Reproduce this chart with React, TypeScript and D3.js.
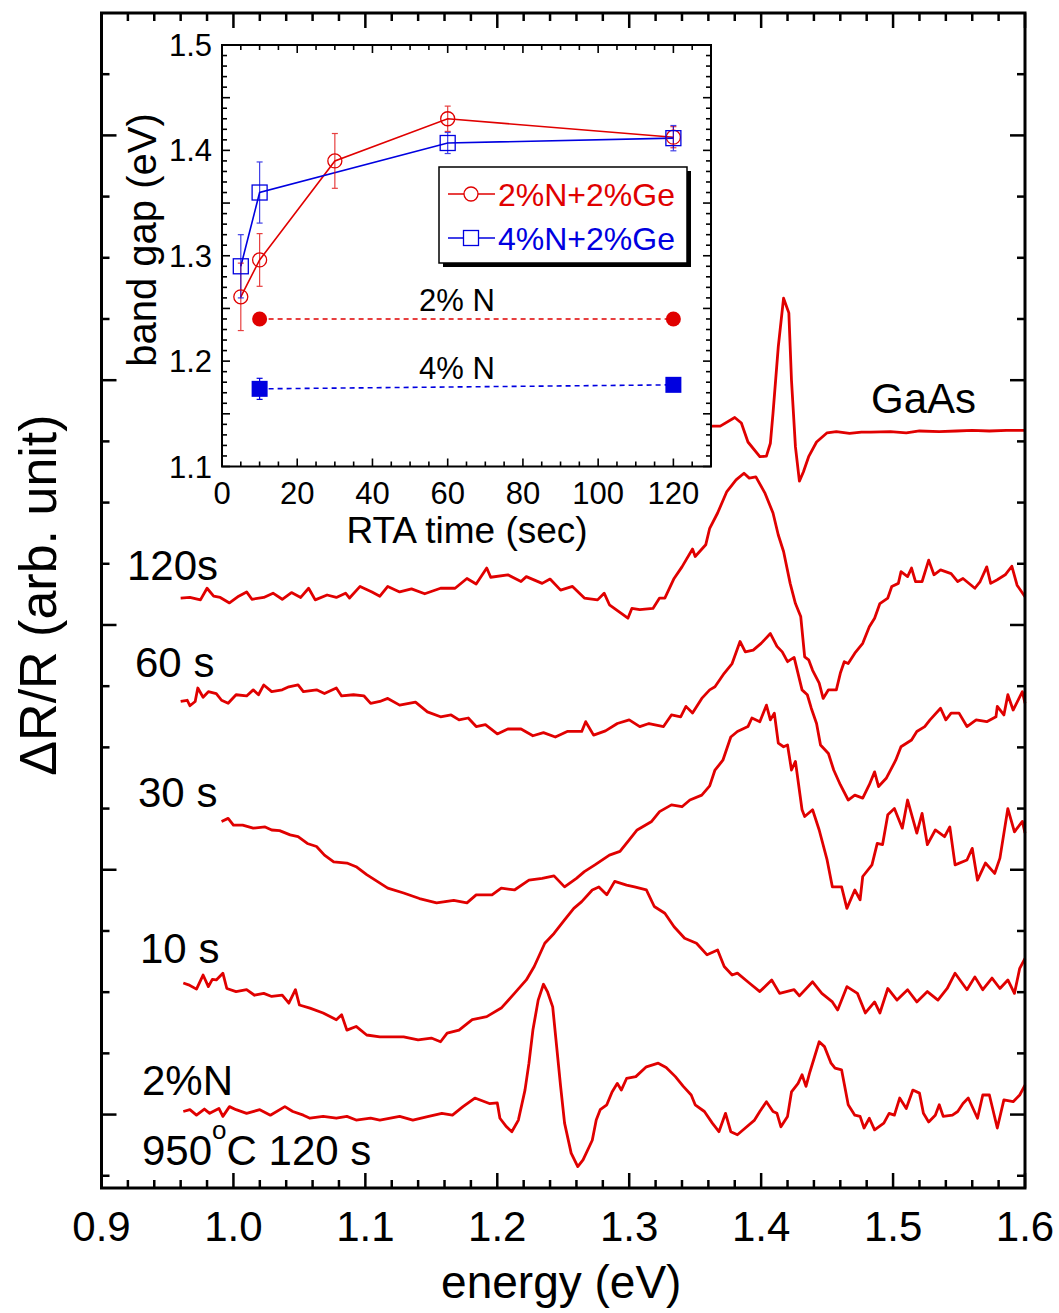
import React from 'react';
import * as d3 from 'd3';

// ---------- main panel data: [energy (eV), ΔR/R + offset (arb. unit)] ----------
const gaasSpec: [number, number][] = [
  [1.300, 112.3], [1.330, 112.6], [1.350, 112.4],
  [1.364, 112.5], [1.369, 112.5], [1.380, 113.9], [1.385, 113.0], [1.390, 109.9], [1.399, 107.5],
  [1.404, 107.6], [1.407, 109.7], [1.409, 114.6], [1.413, 125.5], [1.417, 133.4], [1.421, 131.0],
  [1.423, 120.0], [1.426, 109.1], [1.429, 103.5], [1.432, 105.0], [1.436, 107.5], [1.442, 109.9],
  [1.450, 111.4], [1.457, 111.6], [1.467, 111.3], [1.476, 111.5], [1.483, 111.5], [1.498, 111.6],
  [1.510, 111.4], [1.520, 111.7], [1.535, 111.6], [1.548, 111.7], [1.560, 111.8], [1.573, 111.7],
  [1.586, 111.8], [1.600, 111.8],
];

const s120: [number, number][] = [
  [0.960, 84.4], [0.967, 84.5], [0.975, 84.1], [0.980, 86.0], [0.985, 84.7], [0.990, 84.5],
  [0.997, 83.6], [1.004, 84.7], [1.010, 85.4], [1.014, 84.2], [1.023, 84.5], [1.030, 85.2],
  [1.037, 84.2], [1.044, 85.3], [1.051, 84.5], [1.057, 86.0], [1.062, 84.1], [1.071, 84.9],
  [1.078, 84.5], [1.085, 85.2], [1.088, 84.4], [1.096, 86.3], [1.105, 85.4], [1.111, 84.7],
  [1.117, 86.3], [1.126, 85.4], [1.135, 85.9], [1.145, 85.1], [1.157, 86.0], [1.168, 86.0],
  [1.177, 87.6], [1.184, 86.7], [1.192, 89.3], [1.195, 87.8], [1.208, 88.2], [1.218, 87.1],
  [1.222, 87.9], [1.234, 86.8], [1.240, 87.5], [1.248, 85.7], [1.257, 86.3], [1.266, 84.4],
  [1.276, 84.1], [1.281, 85.2], [1.285, 83.3], [1.294, 81.9], [1.299, 81.1], [1.302, 82.7],
  [1.308, 82.5], [1.318, 82.7], [1.323, 84.4], [1.327, 84.4], [1.334, 87.6], [1.340, 89.5],
  [1.343, 90.6], [1.348, 92.4], [1.350, 91.2], [1.358, 93.1], [1.361, 95.8], [1.367, 98.3],
  [1.374, 101.8], [1.381, 103.7], [1.387, 104.8], [1.391, 104.0], [1.396, 104.2], [1.403, 101.5],
  [1.409, 98.3], [1.413, 94.7], [1.417, 92.0], [1.422, 86.8], [1.426, 83.5], [1.430, 81.4],
  [1.433, 74.8], [1.436, 74.3], [1.439, 72.6], [1.444, 70.5], [1.447, 68.0], [1.451, 69.4],
  [1.457, 69.4], [1.460, 72.1], [1.463, 74.0], [1.466, 73.7], [1.471, 75.4], [1.477, 77.0],
  [1.482, 79.7], [1.486, 81.1], [1.490, 83.5], [1.496, 84.4], [1.499, 86.3], [1.504, 86.8],
  [1.506, 88.7], [1.511, 87.9], [1.514, 89.3], [1.517, 87.1], [1.522, 87.1], [1.527, 90.6],
  [1.531, 88.2], [1.536, 89.0], [1.544, 88.4], [1.549, 87.1], [1.553, 87.6], [1.562, 86.0],
  [1.566, 87.1], [1.571, 89.5], [1.574, 86.8], [1.579, 87.4], [1.585, 88.2], [1.590, 89.6],
  [1.594, 86.5], [1.600, 84.6],
];

const s60: [number, number][] = [
  [0.960, 67.5], [0.965, 67.7], [0.967, 66.8], [0.971, 67.5], [0.973, 69.7], [0.977, 68.2],
  [0.981, 69.1], [0.987, 68.8], [0.991, 67.7], [0.996, 67.2], [1.002, 68.6], [1.010, 68.4],
  [1.015, 69.4], [1.019, 68.6], [1.023, 70.2], [1.029, 69.1], [1.037, 69.4], [1.042, 69.9],
  [1.049, 70.2], [1.053, 69.1], [1.063, 69.4], [1.069, 68.8], [1.078, 69.7], [1.082, 68.4],
  [1.091, 68.6], [1.099, 68.4], [1.104, 67.2], [1.111, 67.5], [1.117, 68.0], [1.126, 66.9],
  [1.138, 67.4], [1.147, 65.8], [1.157, 65.0], [1.165, 65.3], [1.171, 64.5], [1.178, 64.8],
  [1.184, 63.4], [1.191, 63.7], [1.200, 62.2], [1.208, 63.0], [1.218, 63.0], [1.227, 61.9],
  [1.235, 62.4], [1.244, 61.7], [1.253, 62.6], [1.264, 62.6], [1.267, 64.2], [1.273, 62.0],
  [1.282, 62.7], [1.291, 63.9], [1.300, 64.5], [1.308, 63.4], [1.315, 63.9], [1.326, 63.4],
  [1.332, 65.3], [1.339, 65.0], [1.343, 66.7], [1.348, 65.6], [1.355, 68.0], [1.361, 69.4],
  [1.365, 69.9], [1.372, 72.1], [1.378, 73.7], [1.384, 77.3], [1.388, 75.6], [1.394, 75.9],
  [1.400, 77.0], [1.407, 78.6], [1.412, 76.5], [1.416, 75.6], [1.420, 74.0], [1.425, 74.7],
  [1.431, 69.4], [1.435, 68.6], [1.438, 66.4], [1.442, 63.9], [1.445, 60.4], [1.451, 59.0],
  [1.455, 56.3], [1.460, 53.9], [1.466, 51.4], [1.471, 52.2], [1.477, 51.7], [1.482, 53.9],
  [1.486, 56.0], [1.489, 53.6], [1.495, 55.0], [1.502, 57.9], [1.506, 60.1], [1.514, 61.2],
  [1.518, 62.6], [1.524, 63.4], [1.528, 64.5], [1.536, 66.4], [1.540, 64.5], [1.544, 65.6],
  [1.550, 65.6], [1.556, 63.4], [1.563, 64.5], [1.571, 64.2], [1.578, 65.0], [1.579, 66.7],
  [1.584, 65.3], [1.587, 68.6], [1.591, 66.1], [1.598, 69.1], [1.600, 67.2],
];

const s30: [number, number][] = [
  [0.991, 47.9], [0.996, 48.4], [1.000, 47.3], [1.007, 47.3], [1.015, 46.8], [1.024, 47.0],
  [1.029, 46.5], [1.035, 46.4], [1.043, 45.7], [1.049, 45.4], [1.056, 44.3], [1.063, 43.8],
  [1.069, 42.4], [1.076, 41.3], [1.086, 41.1], [1.093, 40.5], [1.101, 39.2], [1.109, 38.1],
  [1.117, 37.0], [1.129, 36.2], [1.141, 35.3], [1.154, 34.6], [1.167, 35.0], [1.177, 34.6],
  [1.184, 35.9], [1.196, 35.9], [1.203, 37.0], [1.213, 36.7], [1.224, 38.3], [1.234, 38.6],
  [1.243, 39.0], [1.251, 37.2], [1.260, 38.6], [1.266, 39.7], [1.274, 40.8], [1.285, 42.4],
  [1.293, 43.0], [1.300, 44.9], [1.306, 46.5], [1.317, 47.9], [1.323, 49.5], [1.332, 50.6],
  [1.340, 50.3], [1.346, 51.4], [1.355, 52.2], [1.361, 53.7], [1.365, 56.3], [1.371, 57.9],
  [1.377, 61.7], [1.382, 62.6], [1.390, 63.4], [1.393, 64.8], [1.399, 64.2], [1.404, 66.9],
  [1.407, 64.5], [1.410, 65.6], [1.413, 60.7], [1.417, 60.1], [1.420, 60.4], [1.423, 56.3],
  [1.426, 57.7], [1.431, 49.8], [1.433, 48.7], [1.439, 49.8], [1.444, 46.5], [1.450, 41.6],
  [1.454, 37.2], [1.461, 37.2], [1.465, 33.7], [1.471, 36.7], [1.475, 35.1], [1.477, 38.9],
  [1.484, 40.8], [1.488, 44.3], [1.492, 44.1], [1.496, 49.0], [1.501, 50.0], [1.507, 46.8],
  [1.511, 51.4], [1.518, 46.0], [1.522, 49.2], [1.526, 44.1], [1.532, 46.5], [1.539, 45.4],
  [1.543, 47.0], [1.547, 40.8], [1.556, 41.6], [1.560, 43.5], [1.564, 38.3], [1.570, 41.1],
  [1.577, 39.4], [1.581, 41.9], [1.587, 50.0], [1.592, 46.2], [1.598, 47.9], [1.600, 46.0],
];

const s10: [number, number][] = [
  [0.962, 21.5], [0.966, 21.2], [0.972, 20.5], [0.977, 22.8], [0.981, 20.9], [0.984, 22.1],
  [0.987, 22.0], [0.992, 23.1], [0.995, 20.6], [1.002, 20.1], [1.010, 20.4], [1.016, 19.5],
  [1.023, 19.8], [1.029, 19.3], [1.037, 19.5], [1.042, 18.2], [1.047, 20.4], [1.050, 17.9],
  [1.058, 17.4], [1.068, 16.6], [1.078, 15.5], [1.082, 16.3], [1.086, 13.8], [1.093, 14.4],
  [1.101, 13.0], [1.111, 12.7], [1.117, 12.7], [1.129, 12.7], [1.140, 12.2], [1.150, 12.5],
  [1.157, 11.9], [1.162, 13.3], [1.171, 13.8], [1.181, 15.5], [1.192, 16.0], [1.203, 17.4],
  [1.213, 19.8], [1.222, 22.0], [1.228, 24.2], [1.236, 28.0], [1.243, 29.6], [1.251, 31.8],
  [1.258, 33.7], [1.264, 34.8], [1.272, 36.7], [1.277, 37.2], [1.283, 35.9], [1.289, 38.1],
  [1.298, 37.5], [1.304, 37.2], [1.313, 36.7], [1.319, 34.0], [1.327, 32.9], [1.334, 30.7],
  [1.342, 28.8], [1.351, 28.0], [1.359, 26.1], [1.367, 26.9], [1.372, 24.2], [1.378, 22.8],
  [1.382, 23.1], [1.391, 21.5], [1.399, 20.1], [1.408, 22.0], [1.414, 19.8], [1.425, 20.4],
  [1.429, 19.4], [1.439, 21.7], [1.446, 19.8], [1.454, 18.4], [1.458, 17.1], [1.465, 20.9],
  [1.473, 19.8], [1.479, 16.6], [1.486, 18.4], [1.490, 16.6], [1.496, 20.6], [1.503, 18.7],
  [1.511, 20.4], [1.518, 18.4], [1.526, 20.1], [1.534, 18.7], [1.541, 20.6], [1.547, 23.1],
  [1.556, 20.4], [1.562, 22.5], [1.568, 20.4], [1.575, 22.3], [1.581, 20.6], [1.587, 22.0],
  [1.592, 19.8], [1.596, 23.9], [1.600, 25.5],
];

const n2Spec: [number, number][] = [
  [0.962, 0.5], [0.967, 0.8], [0.972, -0.1], [0.978, 0.9], [0.982, 0.2], [0.989, 1.0],
  [0.992, -0.3], [0.997, 1.3], [1.002, 0.8], [1.010, 0.2], [1.020, 0.8], [1.028, -0.1],
  [1.039, 1.3], [1.045, 0.5], [1.053, -0.1], [1.058, -0.6], [1.068, -0.3], [1.078, -0.6],
  [1.086, -0.3], [1.093, -0.9], [1.104, -0.6], [1.111, -0.9], [1.126, -0.3], [1.136, -0.9],
  [1.148, -0.3], [1.158, 0.2], [1.166, -0.1], [1.174, 1.3], [1.183, 2.7], [1.194, 1.8],
  [1.200, 1.9], [1.202, -0.6], [1.207, -2.0], [1.211, -2.8], [1.216, -0.9], [1.221, 4.0],
  [1.224, 8.4], [1.227, 13.8], [1.231, 18.7], [1.235, 21.3], [1.238, 20.1], [1.242, 17.6],
  [1.245, 11.1], [1.248, 4.6], [1.251, -1.4], [1.256, -6.3], [1.261, -8.5], [1.265, -7.4],
  [1.272, -4.2], [1.275, -0.9], [1.278, 0.8], [1.283, 1.6], [1.287, 3.7], [1.291, 5.1],
  [1.294, 4.0], [1.298, 5.9], [1.305, 6.2], [1.313, 7.8], [1.322, 8.4], [1.328, 7.7],
  [1.335, 6.2], [1.341, 4.6], [1.347, 3.2], [1.350, 1.6], [1.357, 0.5], [1.363, -1.4],
  [1.368, -2.8], [1.373, 0.2], [1.377, -2.8], [1.382, -3.3], [1.388, -2.2], [1.395, -0.9],
  [1.399, 0.5], [1.404, 2.1], [1.409, 0.5], [1.412, 0.2], [1.415, -2.0], [1.420, -0.3],
  [1.423, 3.7], [1.428, 5.1], [1.431, 6.5], [1.434, 4.6], [1.437, 7.0], [1.444, 11.9],
  [1.448, 11.1], [1.453, 8.4], [1.456, 7.6], [1.461, 7.3], [1.466, 1.6], [1.471, -0.1],
  [1.475, -0.3], [1.478, -2.2], [1.482, -0.6], [1.486, -2.5], [1.493, -1.4], [1.497, 0.2],
  [1.501, -0.1], [1.505, 2.7], [1.510, 1.0], [1.515, 4.0], [1.520, 3.5], [1.523, 0.2],
  [1.527, -1.2], [1.532, -0.1], [1.535, 1.6], [1.538, -0.3], [1.545, -0.1], [1.549, 0.5],
  [1.553, 1.8], [1.557, 2.7], [1.564, -0.6], [1.568, 3.2], [1.573, 3.2], [1.579, -2.2],
  [1.584, 2.4], [1.591, 2.1], [1.596, 3.2], [1.600, 4.8],
];

const spectra = [gaasSpec, s120, s60, s30, s10, n2Spec];
const spectrumLabels = ['GaAs', '120s', '60 s', '30 s', '10 s', '2%N'];
const xTickLabels = ['0.9', '1.0', '1.1', '1.2', '1.3', '1.4', '1.5', '1.6'];

// ---------- inset data: RTA time (sec), band gap (eV), error (eV) ----------
const rtaTimeA = [5, 10, 30, 60, 120];
const gapA = [1.261, 1.296, 1.390, 1.430, 1.4125];
const errA = [0.032, 0.025, 0.026, 0.012, 0.010];

const rtaTimeB = [5, 10, 60, 120];
const gapB = [1.290, 1.360, 1.407, 1.4116];
const errB = [0.030, 0.029, 0.010, 0.012];

const refTimes = [10, 120];
const ref2N = [1.240, 1.240];
const ref4N = [1.1737, 1.1775];
const ref4NErr = [0.010, 0];

const legendLabels = ['2%N+2%Ge', '4%N+2%Ge'];
const insetXTicks = [0, 20, 40, 60, 80, 100, 120];
const insetYTicks = [1.1, 1.2, 1.3, 1.4, 1.5];

const RED = '#e00000';
const BLUE = '#0000e0';
const FONT = "'Liberation Sans', Arial, Helvetica, sans-serif";

export default function App() {
  // main scales
  const x = d3.scaleLinear().domain([0.9, 1.6]).range([101.5, 1025]);
  const y = d3.scaleLinear().domain([-12, 180]).range([1188, 13]);
  const line = d3.line<[number, number]>().x(d => x(d[0])).y(d => y(d[1]));

  const xMinor = d3.range(0, 36).map(i => 0.9 + i * 0.02);
  const yMinor = d3.range(-10, 180, 10);

  // inset scales
  const ix = d3.scaleLinear().domain([0, 130]).range([222, 711]);
  const iy = d3.scaleLinear().domain([1.1, 1.5]).range([466.5, 45]);
  const ixMinor = d3.range(0, 131, 5);
  const iyMinor = d3.range(0, 41).map(i => 1.1 + i * 0.01);

  const lineA = d3.line<number>().x((_, i) => ix(rtaTimeA[i])).y(d => iy(d));
  const lineB = d3.line<number>().x((_, i) => ix(rtaTimeB[i])).y(d => iy(d));
  const lineRef = (vals: number[]) => d3.line<number>().x((_, i) => ix(refTimes[i])).y(d => iy(d))(vals) || '';

  const [x0, x1] = x.range();
  const [yb, yt] = y.range();
  const [ix0, ix1] = ix.range();
  const [iyb, iyt] = iy.range();

  const spectrumLabelPos = [
    [871, 413], [127, 580], [135, 677], [138, 807], [140, 963], [142, 1095],
  ];

  return (
    <svg width={1059} height={1313} style={{ position: 'absolute', left: 0, top: 0, background: '#fff' }}
      fontFamily={FONT}>
      <rect x={0} y={0} width={1059} height={1313} fill="#fff" />
      {/* main ticks */}
      <g stroke="#000" strokeWidth={2.5}>
        {xMinor.map((v, i) => {
          const len = i % 5 === 0 ? 15 : 8;
          return (
            <g key={'xt' + i}>
              <line x1={x(v)} x2={x(v)} y1={yb} y2={yb - len} />
              <line x1={x(v)} x2={x(v)} y1={yt} y2={yt + len} />
            </g>
          );
        })}
        {yMinor.map((v, i) => {
          const len = v % 40 === 0 ? 15 : 8;
          return (
            <g key={'yt' + i}>
              <line x1={x0} x2={x0 + len} y1={y(v)} y2={y(v)} />
              <line x1={x1} x2={x1 - len} y1={y(v)} y2={y(v)} />
            </g>
          );
        })}
      </g>
      {/* spectra */}
      <g fill="none" stroke={RED} strokeWidth={2.8} strokeLinejoin="round">
        {spectra.map((s, i) => <path key={'sp' + i} d={line(s) || ''} />)}
      </g>
      <rect x={x0} y={yt} width={x1 - x0} height={yb - yt} fill="none" stroke="#000" strokeWidth={3} />
      {/* x tick labels */}
      <g fontSize={42} textAnchor="middle" fill="#000">
        {xTickLabels.map((t, i) => (
          <text key={'xl' + i} x={x(0.9 + i * 0.1)} y={1241}>{t}</text>
        ))}
      </g>
      <text x={(x0 + x1) / 2 - 2} y={1298} fontSize={46} textAnchor="middle">energy (eV)</text>
      <text transform="translate(56,595) rotate(-90)" fontSize={52} textAnchor="middle">ΔR/R (arb. unit)</text>
      {/* spectrum labels */}
      <g fontSize={42} fill="#000">
        {spectrumLabels.map((t, i) => (
          <text key={'sl' + i} x={spectrumLabelPos[i][0]} y={spectrumLabelPos[i][1]}>{t}</text>
        ))}
        <text x={142} y={1165}>950<tspan dy={-26} fontSize={26}>o</tspan><tspan dy={26}>C 120 s</tspan></text>
      </g>

      {/* ---------- inset ---------- */}
      <rect x={ix0} y={iyt} width={ix1 - ix0} height={iyb - iyt} fill="#fff" />
      <g stroke="#000" strokeWidth={1.6}>
        {ixMinor.map((v, i) => {
          const len = v % 20 === 0 ? 8 : 5;
          return (
            <g key={'ixt' + i}>
              <line x1={ix(v)} x2={ix(v)} y1={iyb} y2={iyb - len} />
              <line x1={ix(v)} x2={ix(v)} y1={iyt} y2={iyt + len} />
            </g>
          );
        })}
        {iyMinor.map((v, i) => {
          const len = i % 5 === 0 ? 8 : 5;
          return (
            <g key={'iyt' + i}>
              <line x1={ix0} x2={ix0 + len} y1={iy(v)} y2={iy(v)} />
              <line x1={ix1} x2={ix1 - len} y1={iy(v)} y2={iy(v)} />
            </g>
          );
        })}
      </g>
      <rect x={ix0} y={iyt} width={ix1 - ix0} height={iyb - iyt} fill="none" stroke="#000" strokeWidth={2} />
      <g fontSize={31} fill="#000">
        {insetXTicks.map(t => (
          <text key={'ixl' + t} x={ix(t)} y={504} textAnchor="middle">{t}</text>
        ))}
        {insetYTicks.map(t => (
          <text key={'iyl' + t} x={212} y={iy(t) + 11} textAnchor="end">{t.toFixed(1)}</text>
        ))}
      </g>
      <text x={467} y={543} fontSize={37} textAnchor="middle">RTA time (sec)</text>
      <text transform="translate(156,240) rotate(-90)" fontSize={40} textAnchor="middle">band gap (eV)</text>

      {/* reference (no Ge) */}
      <path d={lineRef(ref2N)} fill="none" stroke={RED} strokeWidth={1.6} strokeDasharray="5,4" />
      <path d={lineRef(ref4N)} fill="none" stroke={BLUE} strokeWidth={1.6} strokeDasharray="5,4" />
      {ref4N.map((v, i) => ref4NErr[i] > 0 ? (
        <g key={'r4e' + i} stroke={BLUE} strokeWidth={1.2}>
          <line x1={ix(refTimes[i])} x2={ix(refTimes[i])} y1={iy(v - ref4NErr[i])} y2={iy(v + ref4NErr[i])} />
          <line x1={ix(refTimes[i]) - 3} x2={ix(refTimes[i]) + 3} y1={iy(v - ref4NErr[i])} y2={iy(v - ref4NErr[i])} />
          <line x1={ix(refTimes[i]) - 3} x2={ix(refTimes[i]) + 3} y1={iy(v + ref4NErr[i])} y2={iy(v + ref4NErr[i])} />
        </g>
      ) : null)}
      {ref2N.map((v, i) => <circle key={'r2' + i} cx={ix(refTimes[i])} cy={iy(v)} r={7.5} fill={RED} />)}
      {ref4N.map((v, i) => <rect key={'r4' + i} x={ix(refTimes[i]) - 8} y={iy(v) - 8} width={16} height={16} fill={BLUE} />)}
      <text x={457} y={311} fontSize={31} textAnchor="middle">2% N</text>
      <text x={457} y={379} fontSize={31} textAnchor="middle">4% N</text>

      {/* Ge series */}
      <path d={lineA(gapA) || ''} fill="none" stroke={RED} strokeWidth={1.6} />
      <path d={lineB(gapB) || ''} fill="none" stroke={BLUE} strokeWidth={1.6} />
      {gapA.map((v, i) => {
        const cx = ix(rtaTimeA[i]);
        return (
          <g key={'ea' + i} stroke={RED} strokeWidth={1.2} opacity={0.75}>
            <line x1={cx} x2={cx} y1={iy(v - errA[i])} y2={iy(v + errA[i])} />
            <line x1={cx - 3} x2={cx + 3} y1={iy(v - errA[i])} y2={iy(v - errA[i])} />
            <line x1={cx - 3} x2={cx + 3} y1={iy(v + errA[i])} y2={iy(v + errA[i])} />
          </g>
        );
      })}
      {gapB.map((v, i) => {
        const cx = ix(rtaTimeB[i]);
        return (
          <g key={'eb' + i} stroke={BLUE} strokeWidth={1.2} opacity={0.75}>
            <line x1={cx} x2={cx} y1={iy(v - errB[i])} y2={iy(v + errB[i])} />
            <line x1={cx - 3} x2={cx + 3} y1={iy(v - errB[i])} y2={iy(v - errB[i])} />
            <line x1={cx - 3} x2={cx + 3} y1={iy(v + errB[i])} y2={iy(v + errB[i])} />
          </g>
        );
      })}
      {gapA.map((v, i) => (
        <circle key={'ma' + i} cx={ix(rtaTimeA[i])} cy={iy(v)} r={7} fill="none" stroke={RED} strokeWidth={1.3} />
      ))}
      {gapB.map((v, i) => (
        <rect key={'mb' + i} x={ix(rtaTimeB[i]) - 7.5} y={iy(v) - 7.5} width={15} height={15} fill="none" stroke={BLUE} strokeWidth={1.3} />
      ))}

      {/* legend */}
      <rect x={443} y={171} width={248} height={96} fill="#000" />
      <rect x={439} y={167} width={248} height={96} fill="#fff" stroke="#000" strokeWidth={1.5} />
      {legendLabels.map((t, i) => {
        const ly = 194 + i * 44;
        const col = i === 0 ? RED : BLUE;
        return (
          <g key={'lg' + i}>
            <line x1={448} x2={495} y1={ly} y2={ly} stroke={col} strokeWidth={1.6} />
            {i === 0
              ? <circle cx={471} cy={ly} r={7} fill="#fff" stroke={col} strokeWidth={1.3} />
              : <rect x={463.5} y={ly - 7.5} width={15} height={15} fill="#fff" stroke={col} strokeWidth={1.3} />}
            <text x={498} y={ly + 11.5} fontSize={32} fill={col}>{t}</text>
          </g>
        );
      })}
    </svg>
  );
}
